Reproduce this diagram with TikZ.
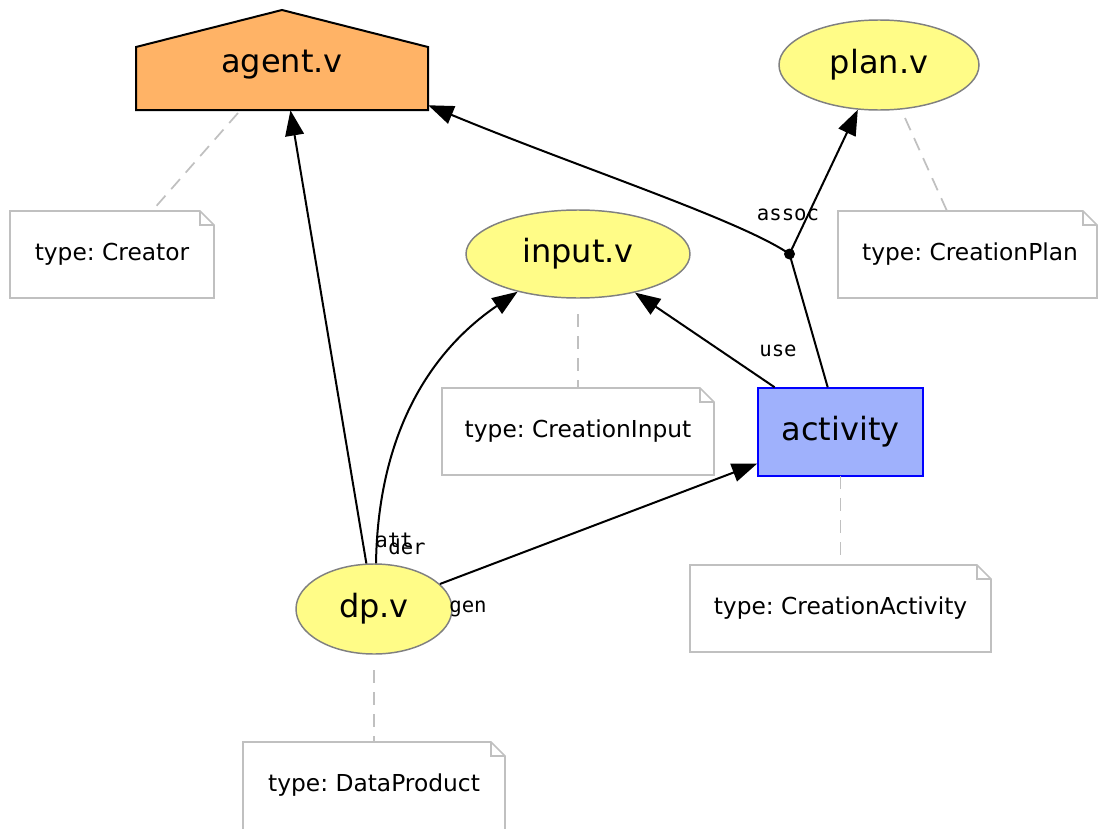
\documentclass[tikz,border=0pt]{standalone}
\usepackage{fontspec}
\setmainfont{DejaVu Sans}
\newfontfamily\labelfont{DejaVu Sans Mono}
\usetikzlibrary{arrows.meta,calc,shapes.geometric}
\definecolor{agentfill}{HTML}{FFB366}
\definecolor{entityfill}{HTML}{FFFC87}
\definecolor{activityfill}{HTML}{9FB1FC}
\definecolor{notegray}{HTML}{C0C0C0}
\frenchspacing
\tikzset{
  entity/.style={ellipse, draw=gray, fill=entityfill, line width=1.1pt, inner sep=0pt, font=\fontsize{24}{28}\selectfont},
  activitybox/.style={rectangle, draw=blue, fill=activityfill, line width=1.1pt, inner sep=0pt, font=\fontsize{24}{28}\selectfont},
  notebox/.style={rectangle, inner sep=0pt, font=\fontsize{17.5}{20}\selectfont},
  noteline/.style={draw=notegray, line width=1.3pt},
  notelink/.style={draw=notegray, line width=1.3pt, dash pattern=on 10pt off 6.5pt},
  rel/.style={draw=black, line width=1.5pt, -{Triangle[length=19pt,width=14pt]}},
  relplain/.style={draw=black, line width=1.5pt},
  rellabel/.style={font=\labelfont\fontsize{15.5}{18}\selectfont, inner sep=0pt}
}
\newcommand{\notepath}[4]{% x1 y1 x2 y2 (y down)
  \draw[noteline] (#1,#2) -- (#3-14,#2) -- (#3,#2+14) -- (#3,#4) -- (#1,#4) -- cycle;
  \draw[noteline] (#3-14,#2) -- (#3-14,#2+14) -- (#3,#2+14);
}
\begin{document}
\begin{tikzpicture}[x=0.75pt,y=-0.75pt]
\useasboundingbox (0,0) rectangle (1099,828);

% agent: house shape around an invisible rectangle
\node[rectangle, minimum width=292*0.75pt, minimum height=100*0.75pt, inner sep=0pt] (agent) at (282,60) {};
\draw[fill=agentfill, draw=black, line width=1.5pt]
  (136,110) -- (136,47) -- (282,10) -- (428,47) -- (428,110) -- cycle;
\node[font=\fontsize{24}{28}\selectfont] (agentlabel) at (282,65) {agent.v};

% entities and activity
\node[entity, minimum width=200*0.75pt, minimum height=90*0.75pt] (plan) at (879,65) {plan.v};
\node[entity, minimum width=224*0.75pt, minimum height=88*0.75pt] (input) at (578,254) {input.v};
\node[entity, minimum width=156*0.75pt, minimum height=90*0.75pt] (dp) at (374,609) {dp.v};
\node[activitybox, minimum width=165*0.75pt, minimum height=88*0.75pt] (act) at (840.5,432) {activity};

% notes
\notepath{10}{211}{214}{298}
\node[notebox] (ncreator) at (112,254.5) {type: Creator};
\notepath{838}{211}{1097}{298}
\node[notebox] (nplan) at (970,254.5) {type: CreationPlan};
\notepath{442}{388}{714}{475}
\node[notebox] (ninput) at (578,431.5) {type: CreationInput};
\notepath{690}{565}{991}{652}
\node[notebox] (nact) at (840.5,608.5) {type: CreationActivity};
\draw[noteline] (243,830) -- (243,742) -- (491,742) -- (505,756) -- (505,830);
\draw[noteline] (491,742) -- (491,756) -- (505,756);
\node[notebox] (ndp) at (374,785) {type: DataProduct};

% note links
\coordinate (lca) at (238,113);  \coordinate (lcb) at (152,211);
\coordinate (lpa) at (905,118);  \coordinate (lpb) at (947,211);
\coordinate (lia) at (578,314);  \coordinate (lib) at (578,388);
\coordinate (laa) at (840.5,476); \coordinate (lab) at (840.5,565);
\coordinate (lda) at (374,670);  \coordinate (ldb) at (374,742);
\draw[notelink] (lca) -- (lcb);
\draw[notelink] (lpa) -- (lpb);
\draw[notelink] (lia) -- (lib);
\draw[notelink] (laa) -- (lab);
\draw[notelink] (lda) -- (ldb);

% association point
\coordinate (assoc) at (789.5,254);
\fill (assoc) circle (5.5);

% relations
\draw[rel] (dp) -- (agent);
\draw[rel] ($(dp.north)+(2,0)$) .. controls (378,440) and (425,355) .. (input.212);
\draw[rel] (dp) -- (act);
\draw[rel] (act) -- (input);
\draw[relplain] (act) -- (assoc);
\draw[rel] (assoc) -- (plan);
\draw[rel] (assoc) .. controls (740,220) and (580,168) .. ($(agent.south east)+(0,-5)$);

% relation labels
\node[rellabel] (latt) at (394,540) {att};
\node[rellabel] (lder) at (407,547) {der};
\node[rellabel] (lgen) at (468,609) {gen};
\node[rellabel] (luse) at (778,351) {use};
\node[rellabel] (lassoc) at (788,215) {assoc};
\end{tikzpicture}
\end{document}
